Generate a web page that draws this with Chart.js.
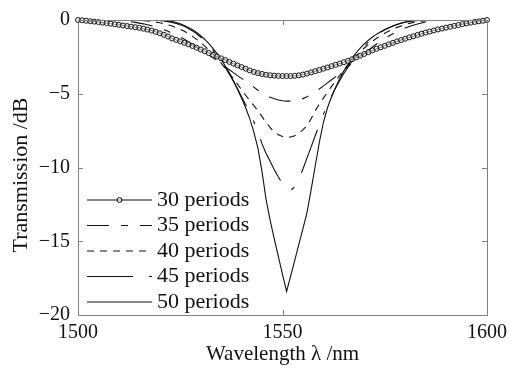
<!DOCTYPE html>
<html>
<head>
<meta charset="utf-8">
<script src="https://cdn.jsdelivr.net/npm/chart.js@4.4.0/dist/chart.umd.min.js"></script>
<style>
  html, body { margin: 0; padding: 0; background: #fff; }
</style>
</head>
<body>
<canvas id="chart" width="531" height="369"></canvas>
<script>
// wavelength grid, 1 nm steps
var wavelengths = [];
for (var w = 1500; w <= 1600; w++) wavelengths.push(w);

var seriesNames = ['30 periods', '35 periods', '40 periods', '45 periods', '50 periods'];
var xTicks = [1500, 1550, 1600];
var yTicks = [0, -5, -10, -15, -20];

var t30 = [
    0, -0.02, -0.05, -0.08, -0.11, -0.14, -0.18, -0.21, -0.25, -0.29,
    -0.33, -0.37, -0.41, -0.45, -0.49, -0.53, -0.59, -0.65, -0.72, -0.80,
    -0.90, -1.00, -1.12, -1.25, -1.35, -1.45, -1.55, -1.65, -1.76, -1.88,
    -2.00, -2.12, -2.24, -2.36, -2.48, -2.60, -2.72, -2.84, -2.96, -3.08,
    -3.19, -3.30, -3.42, -3.52, -3.60, -3.66, -3.71, -3.75, -3.77, -3.79,
    -3.80, -3.80, -3.80, -3.78, -3.75, -3.70, -3.63, -3.55, -3.47, -3.39,
    -3.30, -3.22, -3.13, -3.04, -2.95, -2.86, -2.77, -2.66, -2.54, -2.42,
    -2.30, -2.18, -2.06, -1.95, -1.85, -1.75, -1.65, -1.55, -1.45, -1.36,
    -1.27, -1.18, -1.10, -1.01, -0.93, -0.85, -0.78, -0.71, -0.64, -0.58,
    -0.52, -0.46, -0.40, -0.34, -0.28, -0.23, -0.18, -0.13, -0.09, -0.05,
    0
];
var t35 = [
    0, 0, 0, 0, 0, 0, 0, 0, 0, -0.02,
    -0.04, -0.06, -0.09, -0.12, -0.16, -0.21, -0.26, -0.32, -0.39, -0.47,
    -0.56, -0.66, -0.77, -0.89, -1.02, -1.16, -1.31, -1.47, -1.64, -1.82,
    -2.00, -2.19, -2.38, -2.57, -2.77, -2.97, -3.17, -3.37, -3.57, -3.77,
    -3.96, -4.14, -4.33, -4.55, -4.76, -4.95, -5.11, -5.24, -5.34, -5.42,
    -5.47, -5.50, -5.50, -5.47, -5.42, -5.33, -5.20, -5.06, -4.88, -4.68,
    -4.47, -4.26, -4.05, -3.84, -3.62, -3.40, -3.17, -2.94, -2.70, -2.47,
    -2.25, -2.04, -1.83, -1.63, -1.44, -1.26, -1.09, -0.93, -0.79, -0.66,
    -0.54, -0.44, -0.35, -0.27, -0.20, -0.14, -0.10, -0.06, -0.03, -0.01,
    0, 0, 0, 0, 0, 0, 0, 0, 0, 0,
    0
];
var t40 = [
    0, 0, 0, 0, 0, 0, 0, 0, 0, 0,
    0, 0, 0, 0, 0, -0.02, -0.04, -0.07, -0.10, -0.14,
    -0.19, -0.25, -0.32, -0.41, -0.51, -0.63, -0.77, -0.93, -1.11, -1.31,
    -1.53, -1.77, -2.03, -2.31, -2.61, -2.93, -3.27, -3.62, -3.98, -4.35,
    -4.73, -5.10, -5.46, -5.80, -6.15, -6.55, -6.95, -7.30, -7.58, -7.78,
    -7.90, -7.95, -7.93, -7.85, -7.68, -7.45, -7.15, -6.70, -6.15, -5.70,
    -5.30, -4.90, -4.50, -4.12, -3.75, -3.40, -3.06, -2.74, -2.44, -2.16,
    -1.90, -1.66, -1.44, -1.24, -1.06, -0.90, -0.75, -0.62, -0.50, -0.40,
    -0.31, -0.23, -0.17, -0.12, -0.08, -0.05, -0.02, 0, 0, 0,
    0, 0, 0, 0, 0, 0, 0, 0, 0, 0,
    0
];
var t45 = [
    0, 0, 0, 0, 0, 0, 0, 0, 0, 0,
    0, 0, 0, 0, 0, 0, 0, 0, 0, -0.02,
    -0.04, -0.07, -0.11, -0.16, -0.23, -0.32, -0.43, -0.57, -0.74, -0.94,
    -1.17, -1.43, -1.72, -2.05, -2.41, -2.80, -3.22, -3.67, -4.15, -4.66,
    -5.20, -5.75, -6.30, -6.90, -7.60, -8.40, -9.05, -9.60, -10.15, -10.65,
    -11.10, -11.50, -11.55, -11.30, -10.80, -10.10, -9.35, -8.60, -7.85, -7.10,
    -6.40, -5.75, -5.15, -4.60, -4.10, -3.63, -3.20, -2.80, -2.43, -2.09,
    -1.78, -1.50, -1.25, -1.03, -0.84, -0.67, -0.52, -0.40, -0.30, -0.21,
    -0.14, -0.09, -0.05, -0.02, 0, 0, 0, 0, 0, 0,
    0, 0, 0, 0, 0, 0, 0, 0, 0, 0,
    0
];
var t50 = [
    0, 0, 0, 0, 0, 0, 0, 0, 0, 0,
    0, 0, 0, 0, 0, 0, 0, 0, 0, 0,
    0, -0.02, -0.05, -0.10, -0.17, -0.26, -0.37, -0.50, -0.66, -0.85,
    -1.07, -1.32, -1.60, -1.92, -2.28, -2.68, -3.12, -3.60, -4.12, -4.70,
    -5.30, -5.95, -6.70, -7.60, -8.70, -10.30, -12.20, -13.60, -14.85, -16.05,
    -17.25, -18.40, -17.35, -16.30, -15.20, -14.15, -13.05, -11.50, -9.90, -8.30,
    -6.95, -5.95, -5.20, -4.55, -3.97, -3.45, -3.00, -2.60, -2.22, -1.90,
    -1.62, -1.37, -1.15, -0.96, -0.80, -0.65, -0.52, -0.40, -0.30, -0.22,
    -0.15, -0.10, -0.06, -0.03, -0.01, 0, 0, 0, 0, 0,
    0, 0, 0, 0, 0, 0, 0, 0, 0, 0,
    0
];

var serif = "'Liberation Serif', 'Times New Roman', serif";
var ink = '#111';

function lineSet(label, data, dash) {
    return {
        label: label,
        data: data,
        borderColor: ink,
        borderWidth: 1.1,
        borderDash: dash,
        pointRadius: 0,
        tension: 0,
        fill: false
    };
}

var ds30 = lineSet(seriesNames[0], t30, []);
ds30.pointRadius = 2.5;
ds30.pointBorderWidth = 1;
ds30.pointBorderColor = '#111';
ds30.pointBackgroundColor = 'rgba(255,255,255,0.5)';
ds30.clip = 4;

var datasets = [
    ds30,
    lineSet(seriesNames[1], t35, [22, 12, 7, 12]),
    lineSet(seriesNames[2], t40, [7, 6]),
    lineSet(seriesNames[3], t45, [46, 16, 4, 16]),
    lineSet(seriesNames[4], t50, [])
];

// box, inward ticks, legend and y title
var framePlugin = {
    id: 'frame',
    afterDraw: function (chart) {
        var c = chart.ctx, a = chart.chartArea;
        var xs = chart.scales.x, ys = chart.scales.y;
        c.save();
        c.strokeStyle = '#808080';
        c.lineWidth = 1;
        c.strokeRect(a.left + 0.5, a.top + 0.5, a.right - a.left, a.bottom - a.top);
        c.beginPath();
        xTicks.forEach(function (v) {
            var px = Math.round(xs.getPixelForValue(v)) + 0.5;
            c.moveTo(px, a.bottom); c.lineTo(px, a.bottom - 5);
            c.moveTo(px, a.top); c.lineTo(px, a.top + 5);
        });
        yTicks.forEach(function (v) {
            var py = Math.round(ys.getPixelForValue(v)) + 0.5;
            c.moveTo(a.left, py); c.lineTo(a.left + 5, py);
            c.moveTo(a.right, py); c.lineTo(a.right - 5, py);
        });
        c.stroke();

        // legend inside the plot
        c.font = '22px ' + serif;
        c.textBaseline = 'middle';
        c.textAlign = 'left';
        chart.data.datasets.forEach(function (d, i) {
            var y = a.top + 180 + i * 25.5;
            var x0 = a.left + 9, x1 = a.left + 74;
            c.strokeStyle = ink;
            c.lineWidth = d.borderWidth;
            c.setLineDash(d.borderDash);
            c.beginPath();
            c.moveTo(x0, y); c.lineTo(x1, y);
            c.stroke();
            c.setLineDash([]);
            if (d.pointRadius > 0) {
                c.beginPath();
                c.arc((x0 + x1) / 2, y, d.pointRadius, 0, Math.PI * 2);
                c.fillStyle = d.pointBackgroundColor;
                c.fill();
                c.lineWidth = d.pointBorderWidth;
                c.strokeStyle = d.pointBorderColor;
                c.stroke();
            }
            c.fillStyle = ink;
            c.fillText(d.label, x1 + 5, y);
        });

        // y axis title
        c.translate(21, 175);
        c.rotate(-Math.PI / 2);
        c.textAlign = 'center';
        c.font = '22px ' + serif;
        c.fillText('Transmission /dB', 0, 0);
        c.restore();
    }
};

new Chart(document.getElementById('chart'), {
    type: 'line',
    data: { labels: wavelengths, datasets: datasets },
    options: {
        responsive: false,
        animation: false,
        layout: { padding: { top: 13, right: 44, left: 0, bottom: 0 } },
        plugins: { legend: { display: false }, tooltip: { enabled: false } },
        scales: {
            x: {
                type: 'linear',
                min: 1500,
                max: 1600,
                afterBuildTicks: function (s) { s.ticks = xTicks.map(function (v) { return { value: v }; }); },
                afterFit: function (s) { s.height = 54; },
                grid: { display: false, drawTicks: false },
                border: { display: false },
                ticks: {
                    padding: 6, color: ink, maxRotation: 0,
                    font: { family: serif, size: 20 },
                    callback: function (v) { return String(v); }
                },
                title: {
                    display: true, text: 'Wavelength λ /nm', color: ink,
                    font: { family: serif, size: 21 },
                    padding: { top: 0, bottom: 2 }
                }
            },
            y: {
                min: -20,
                max: 0,
                afterBuildTicks: function (s) { s.ticks = yTicks.map(function (v) { return { value: v }; }); },
                afterFit: function (s) { s.width = 78; },
                grid: { display: false, drawTicks: false },
                border: { display: false },
                ticks: {
                    padding: 8, color: ink,
                    font: { family: serif, size: 20 },
                    callback: function (v) { return String(v).replace('-', '\u2212'); }
                }
            }
        }
    },
    plugins: [framePlugin]
});
</script>
</body>
</html>
